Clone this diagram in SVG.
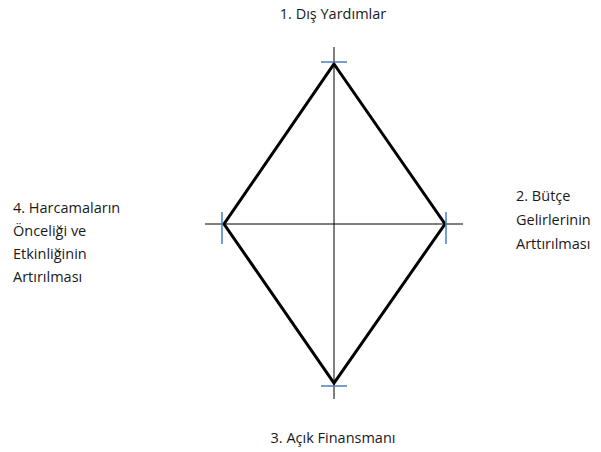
<svg xmlns="http://www.w3.org/2000/svg" width="601" height="452" viewBox="0 0 601 452">
<style>
.t{font-family:"Open Sans","Liberation Sans",sans-serif;font-size:14.5px;fill:#1a1a1a}
.ax{stroke:#000;stroke-width:1;fill:none}
.tk{stroke:#4a7ebb;stroke-width:1.5;fill:none}
.dm{stroke:#000;stroke-width:3;fill:none;stroke-linejoin:miter}
</style>
<rect width="601" height="452" fill="#fff"/>
<g id="connectors">
<line class="ax" x1="334" y1="47" x2="334" y2="399"/>
<line class="ax" x1="205" y1="224" x2="463" y2="224"/>
<polygon class="dm" points="334,64 445,224 334,383 224,224"/>
<line class="tk" x1="321" y1="62" x2="347" y2="62"/>
<line class="tk" x1="321" y1="386" x2="347" y2="386"/>
<line class="tk" x1="222" y1="212" x2="222" y2="244"/>
<line class="tk" x1="446" y1="212" x2="446" y2="244"/>
</g>
<g id="n1"><text class="t" x="333" y="19" text-anchor="middle">1. Dış Yardımlar</text></g>
<g id="n2"><text class="t" x="516" y="201">2. Bütçe</text><text class="t" x="516" y="225">Gelirlerinin</text><text class="t" x="516" y="249">Arttırılması</text></g>
<g id="n3"><text class="t" x="333" y="443" text-anchor="middle">3. Açık Finansmanı</text></g>
<g id="n4"><text class="t" x="13" y="213">4. Harcamaların</text><text class="t" x="13" y="236">Önceliği ve</text><text class="t" x="13" y="259">Etkinliğinin</text><text class="t" x="13" y="282">Artırılması</text></g>
</svg>
